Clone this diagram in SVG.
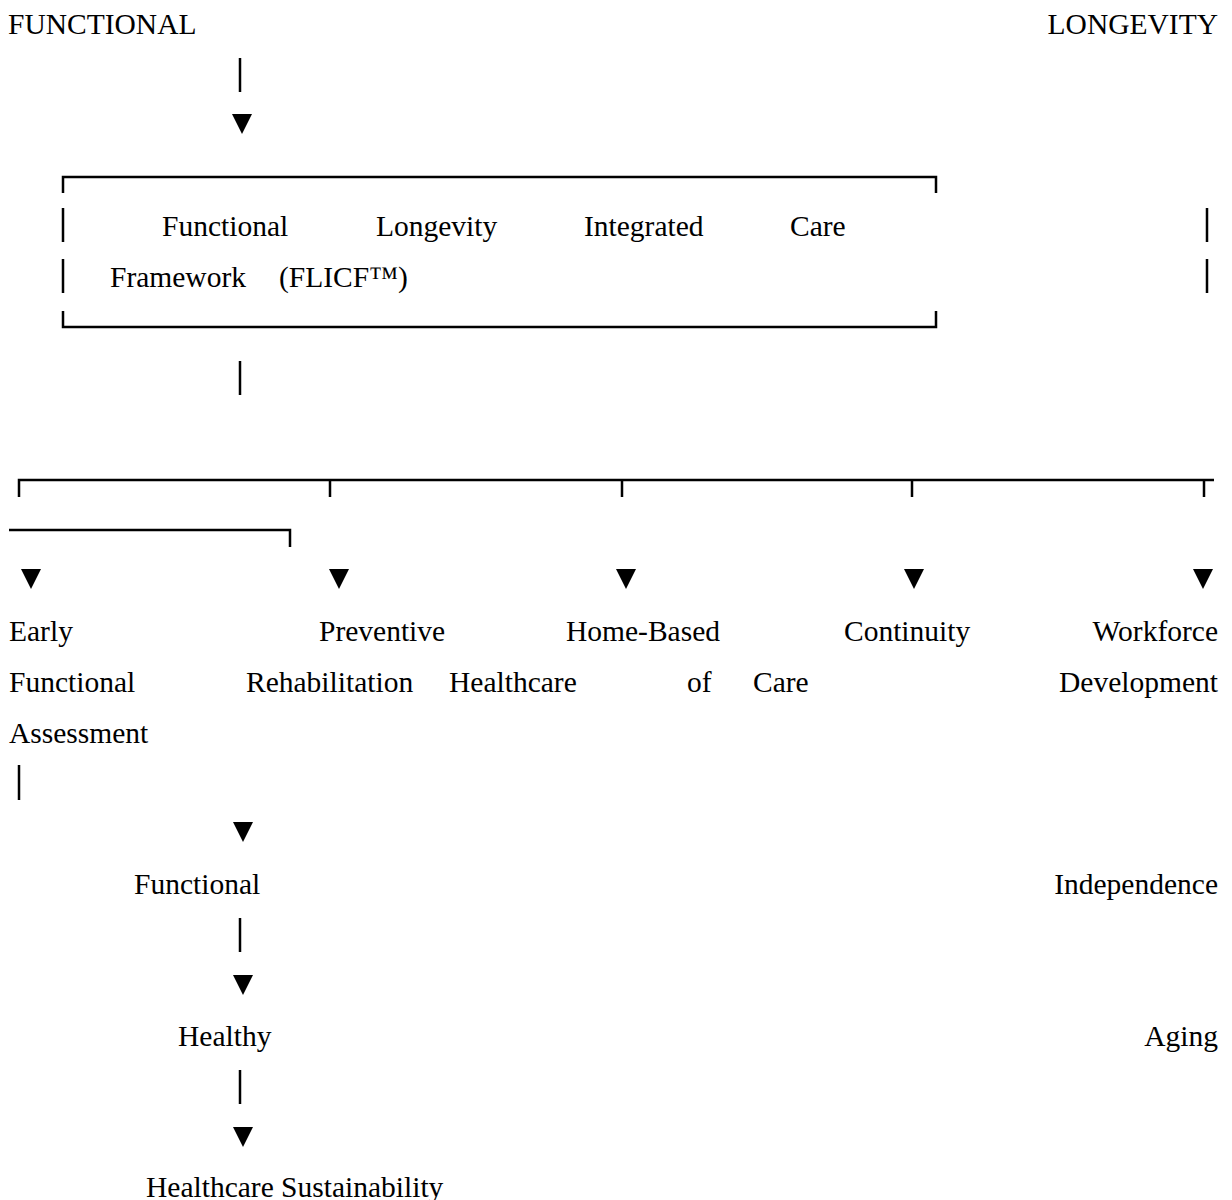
<svg xmlns="http://www.w3.org/2000/svg" width="1232" height="1200" viewBox="0 0 1232 1200">
<style>
text{font-family:"Liberation Serif","Times New Roman",serif;font-size:29.5px;fill:#000}
.r{text-anchor:end}
.ln{stroke:#000;stroke-width:2.5;fill:none}
.tri{fill:#000}
</style>
<defs>
<polygon id="tri" points="-10,0 10,0 0,20" class="tri"/>
</defs>
<rect width="1232" height="1200" fill="#fff"/>
<g id="n-functional-top"><text x="8" y="34">FUNCTIONAL</text></g>
<g id="n-longevity-top"><text class="r" x="1218" y="34">LONGEVITY</text></g>
<g id="n-flicf">
<path class="ln" d="M63,193 V177 H936 V193"/>
<path class="ln" d="M63,311 V327 H936 V311"/>
<path class="ln" d="M63,208 V242 M63,259 V293 M1207,208 V242 M1207,259 V293"/>
<text x="162" y="236">Functional</text>
<text x="376" y="236">Longevity</text>
<text x="584" y="236">Integrated</text>
<text x="790" y="236">Care</text>
<text x="110" y="287">Framework</text>
<text x="279" y="287">(FLICF™)</text>
</g>
<g id="n-early"><text x="9" y="641">Early</text><text x="9" y="692">Functional</text><text x="9" y="743">Assessment</text></g>
<g id="n-preventive"><text x="319" y="641">Preventive</text><text x="246" y="692">Rehabilitation</text></g>
<g id="n-home"><text x="566" y="641">Home-Based</text><text x="449" y="692">Healthcare</text></g>
<g id="n-continuity"><text x="844" y="641">Continuity</text><text x="687" y="692">of</text><text x="753" y="692">Care</text></g>
<g id="n-workforce"><text class="r" x="1218" y="641">Workforce</text><text class="r" x="1218" y="692">Development</text></g>
<g id="n-independence"><text x="134" y="894">Functional</text><text class="r" x="1218" y="894">Independence</text></g>
<g id="n-aging"><text x="178" y="1046">Healthy</text><text class="r" x="1218" y="1046">Aging</text></g>
<g id="n-sustain"><text x="146" y="1197">Healthcare Sustainability</text></g>
<g id="connectors">
<path class="ln" d="M240,58 V92"/>
<use href="#tri" x="242" y="114"/>
<path class="ln" d="M240,361 V395"/>
<path class="ln" d="M19,497 V480 H1214 M330,480 V497 M622,480 V497 M912,480 V497 M1204,480 V497"/>
<path class="ln" d="M9,530 H290 V547"/>
<use href="#tri" x="31" y="569"/>
<use href="#tri" x="339" y="569"/>
<use href="#tri" x="626" y="569"/>
<use href="#tri" x="914" y="569"/>
<use href="#tri" x="1203" y="569"/>
<path class="ln" d="M19,765 V800"/>
<use href="#tri" x="243" y="822"/>
<path class="ln" d="M240,918 V952"/>
<use href="#tri" x="243" y="975"/>
<path class="ln" d="M240,1070 V1104"/>
<use href="#tri" x="243" y="1127"/>
</g>
</svg>
